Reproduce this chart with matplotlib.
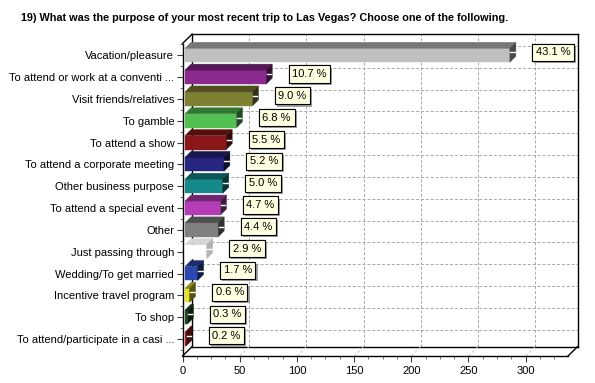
import numpy as np
import matplotlib
matplotlib.use("Agg")
import matplotlib.pyplot as plt
import matplotlib.patheffects as pe
from matplotlib.patches import Polygon
from matplotlib.lines import Line2D
from matplotlib.colors import to_rgb

title = "19) What was the purpose of your most recent trip to Las Vegas? Choose one of the following."

categories = [
    "Vacation/pleasure",
    "To attend or work at a conventi ...",
    "Visit friends/relatives",
    "To gamble",
    "To attend a show",
    "To attend a corporate meeting",
    "Other business purpose",
    "To attend a special event",
    "Other",
    "Just passing through",
    "Wedding/To get married",
    "Incentive travel program",
    "To shop",
    "To attend/participate in a casi ...",
]
counts = [284, 71, 59, 45, 36, 34, 33, 31, 29, 19, 11, 4, 2, 1]
percents = [43.1, 10.7, 9.0, 6.8, 5.5, 5.2, 5.0, 4.7, 4.4, 2.9, 1.7, 0.6, 0.3, 0.2]
bar_colors = [
    "#c0c0c0", "#8a2a8e", "#808033", "#52c050", "#8a1818", "#262680", "#168a8a",
    "#b43cb4", "#808080", "#ffffff", "#2b48b0", "#e6e028", "#1a4d1a", "#a61c1c",
]
x_ticks = [0, 50, 100, 150, 200, 250, 300]

W, H = 595, 383
fig = plt.figure(figsize=(W / 100, H / 100), dpi=100)
fig.patch.set_facecolor("white")


def rect(l, t, r, b):
    # pixel box (from top-left) -> figure fraction
    return [l / W, 1 - b / H, (r - l) / W, (b - t) / H]


DX, DY = 9.5, 9.3          # depth of the chart box in px
FRONT = (182.5, 43.5, 568, 356)
XLIM = (0, 337)
YLIM = (13.78, -0.54)

# back wall with grid
back = fig.add_axes(rect(FRONT[0] + DX, FRONT[1] - DY, FRONT[2] + DX, FRONT[3] - DY))
back.set_xlim(*XLIM)
back.set_ylim(*YLIM)
back.set_xticks(x_ticks)
back.set_yticks(range(len(categories)))
back.tick_params(length=0, labelbottom=False, labelleft=False)
back.grid(True, color="#a8a8a8", linestyle=(0, (3, 2)), linewidth=0.7)
for s in back.spines.values():
    s.set_color("black")
    s.set_linewidth(1)

# front plane with axes, ticks and bars
ax = fig.add_axes(rect(*FRONT))
ax.patch.set_visible(False)
ax.set_xlim(*XLIM)
ax.set_ylim(*YLIM)
ax.spines["top"].set_visible(False)
ax.spines["right"].set_visible(False)
for s in ("left", "bottom"):
    ax.spines[s].set_color("black")
    ax.spines[s].set_linewidth(1)
ax.set_xticks(x_ticks)
ax.set_xticks(np.arange(0, 337, 12.5), minor=True)
ax.set_yticks(range(len(categories)))
ax.set_yticklabels(categories)
ax.set_yticks(np.arange(-0.5, 13.6, 0.5), minor=True)
ax.tick_params(axis="both", which="major", length=4, width=0.8, color="#404040",
               labelsize=8, pad=2)
ax.tick_params(axis="both", which="minor", length=2, width=0.6, color="#606060")
ax.tick_params(axis="x", pad=3)
for lab in ax.get_yticklabels() + ax.get_xticklabels():
    lab.set_family("Liberation Sans")

# box edges joining front and back planes
corners = [(FRONT[0], FRONT[1]), (FRONT[0], FRONT[3]), (FRONT[2], FRONT[3])]
for cx, cy in corners:
    fig.add_artist(Line2D([cx / W, (cx + DX) / W], [1 - cy / H, 1 - (cy - DY) / H],
                          color="black", lw=1, transform=fig.transFigure))

to_px = ax.transData.transform
to_data = ax.transData.inverted().transform

# faint floor lines at the x gridlines
for xv in x_ticks[1:]:
    p0 = to_px((xv, YLIM[0]))
    p1 = p0 + (DX, DY)
    d = to_data([p0, p1])
    ax.plot(d[:, 0], d[:, 1], color="#c8c8c8", lw=0.7, ls=(0, (3, 2)), clip_on=False)

# 3D bars
BH = 0.64          # front face height (rows)
BD = 6.0           # bar depth in px
X0 = 2.5           # bar front sits slightly inside the box
for i, (v, col) in enumerate(zip(counts, bar_colors)):
    c = np.array(to_rgb(col))
    tl = to_px((0, i - BH / 2)) + (X0, 0)
    tr = to_px((v, i - BH / 2)) + (X0, 0)
    br = to_px((v, i + BH / 2)) + (X0, 0)
    bl = to_px((0, i + BH / 2)) + (X0, 0)
    dd = np.array([BD, BD])
    top_c = c * 0.62 if col != "#ffffff" else c * 0.84
    side_c = c * 0.38 if col != "#ffffff" else c * 0.7
    faces = [
        ([tl, tr, br, bl], c),
        ([tl, tr, tr + dd, tl + dd], top_c),
        ([tr, br, br + dd, tr + dd], side_c),
    ]
    for pts, fc in faces:
        ax.add_patch(Polygon(to_data(np.array(pts)), closed=True, facecolor=fc,
                             edgecolor=fc, lw=0.3, clip_on=False, zorder=3))
    # small white tick on the side face
    m = (tr + br) / 2 + dd / 2
    seg = to_data(np.array([m - (2.5, 0), m + (2.0, 0)]))
    ax.plot(seg[:, 0], seg[:, 1], color="white", lw=1, clip_on=False, zorder=4)

    ann = ax.annotate(f"{percents[i]:.1f} %", xy=(v, i), xytext=(20.5, 2.2),
                      textcoords="offset points", ha="left", va="center",
                      fontsize=8, family="Liberation Sans", zorder=5,
                      bbox=dict(boxstyle="square,pad=0.32", fc="#ffffe1",
                                ec="black", lw=0.8))
    ann.get_bbox_patch().set_path_effects(
        [pe.withSimplePatchShadow(offset=(1.5, -1.5), shadow_rgbFace="#9a9a9a", alpha=0.9),
         pe.Normal()])

fig.text(21 / W, 1 - 18 / H, title, fontsize=7.8, fontweight="bold",
         family="Liberation Sans", ha="left", va="center")

fig.savefig("out.png", dpi=100)
